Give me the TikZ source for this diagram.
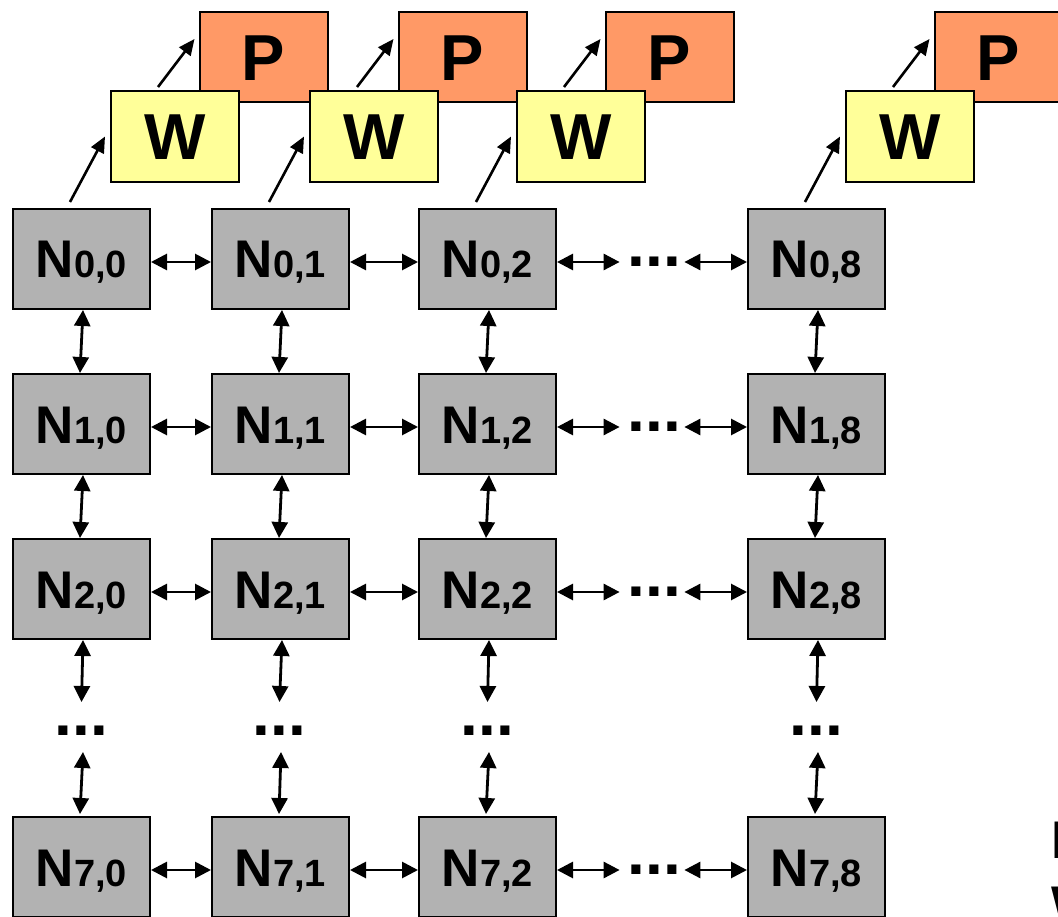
\documentclass[tikz,border=0pt]{standalone}
\usepackage{fontspec}
\setmainfont{Liberation Sans}
\usetikzlibrary{arrows.meta,calc}
\definecolor{nodegrey}{HTML}{B2B2B2}
\definecolor{wyellow}{HTML}{FFFF99}
\definecolor{porange}{HTML}{FF9966}
% grid label: large N with smaller row,column indices on the same baseline
\newcommand\gridlabel[2]{{\fontsize{53}{53}\selectfont N}{\fontsize{38}{38}\selectfont #1,#2}}
\begin{document}
\begin{tikzpicture}[x=1pt,y=-1pt,
  nodebox/.style={draw=black,line width=2pt,fill=nodegrey,minimum width=137pt,minimum height=100pt,
    inner sep=0pt,outer sep=1pt,text height=38pt,text depth=0pt,font=\bfseries},
  wbox/.style={draw=black,line width=2pt,fill=wyellow,minimum width=128pt,minimum height=91pt,
    inner sep=0pt,outer sep=1pt,text height=47pt,text depth=0pt,font=\fontsize{65}{65}\selectfont\bfseries},
  pbox/.style={wbox,fill=porange,minimum height=90pt},
  link/.style={line width=2.8pt,{Triangle[length=16pt,width=16pt]}-{Triangle[length=16pt,width=16pt]}},
  feed/.style={line width=2.6pt,-{Triangle[length=16pt,width=14pt]}},
  dots/.style={inner sep=0pt,font=\fontsize{64}{64}\selectfont\bfseries},
  edgetext/.style={inner sep=0pt,anchor=base west,font=\fontsize{53}{53}\selectfont\bfseries}
]
\useasboundingbox (0,0) rectangle (1058,917);

% processor and wrapper boxes above each column
\foreach \c/\x in {0/81.5,1/280.5,2/487.5,8/816.5}{
  \node[pbox] (p\c) at (\x+182,57) {P};
  \node[wbox] (w\c) at (\x+93.5,136.5) {W};
}

% grid of network nodes
\foreach \r/\y in {0/259,1/424,2/589,7/867}{
  \foreach \c/\x in {0/81.5,1/280.5,2/487.5,8/816.5}{
    \node[nodebox] (n\r\c) at (\x,\y) {\gridlabel{\r}{\c}};
  }
  % elided columns
  \node[dots] (hd\r) at (654.5,\y+3) {...};
}

% elided rows
\foreach \c/\x in {0/81.5,1/279.5,2/487.5,8/816.5}{
  \node[dots] (vd\c) at (\x,731) {...};
}

% feeds from the top row into wrappers and processors
\foreach \c in {0,1,2,8}{
  \draw[feed] ($(n0\c.north west)+(58,-6)$) -- ($(w\c.west)+(-5,0)$);
  \draw[feed] ($(w\c.north west)+(48,-3)$) -- ($(p\c.west)+(-4,-18)$);
}

% horizontal links
\foreach \r in {0,1,2,7}{
  \draw[link] ([yshift=-3pt]n\r0.east) -- ([yshift=-3pt]n\r1.west);
  \draw[link] ([yshift=-3pt]n\r1.east) -- ([yshift=-3pt]n\r2.west);
  \draw[link] ([yshift=-3pt]n\r2.east) -- ([xshift=-8pt]hd\r.west);
  \draw[link] ([xshift=3pt]hd\r.east) -- ([yshift=-3pt]n\r8.west);
}

% vertical links
\foreach \c in {0,1,2,8}{
  \draw[link] ([xshift=1.5pt]n0\c.south) -- ([xshift=-1.5pt]n1\c.north);
  \draw[link] ([xshift=1.5pt]n1\c.south) -- ([xshift=-1.5pt]n2\c.north);
  \draw[link] ([xshift=1.5pt]n2\c.south) -- ($(vd\c)+(0,-29)$);
  \draw[link] ($(vd\c)+(1.5,21)$) -- ([xshift=-1.5pt,yshift=2pt]n7\c.north);
}

% text running off the right edge
\node[edgetext] (t1) at (1051,858) {P};
\node[edgetext] (t2) at (1051,923) {W};
\end{tikzpicture}
\end{document}
